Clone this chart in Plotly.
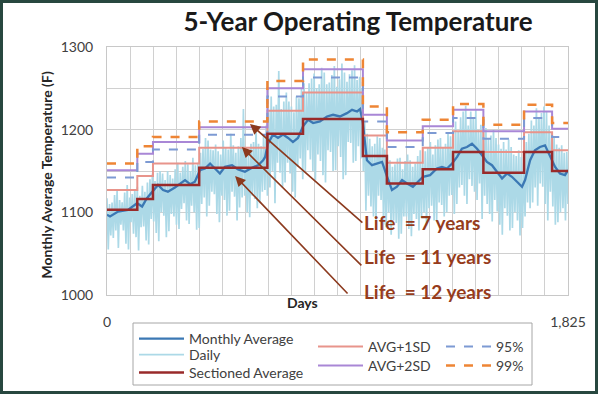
import plotly.graph_objects as go

# ---------------- data ----------------
avg_days = [0, 12, 44, 83, 119, 139, 158, 178, 202, 222, 241, 269, 309, 329, 348, 368, 388, 408,
            428, 447, 467, 495, 519, 546, 574, 598, 618, 626, 637, 657, 677, 697, 717, 736, 756,
            776, 796, 816, 843, 871, 895, 922, 950, 970, 990, 1002, 1013, 1029, 1049, 1069, 1089,
            1109, 1128, 1148, 1168, 1188, 1211, 1231, 1251, 1279, 1306, 1326, 1346, 1366, 1386,
            1405, 1425, 1445, 1465, 1485, 1504, 1524, 1544, 1564, 1584, 1603, 1623, 1643, 1655,
            1675, 1694, 1714, 1734, 1754, 1774, 1793, 1813, 1825]
avg_temp = [1097, 1095, 1101, 1103, 1111, 1107, 1117, 1124, 1133, 1127, 1125, 1130, 1139, 1134,
            1137, 1151, 1153, 1159, 1153, 1147, 1155, 1157, 1152, 1149, 1154, 1157, 1163, 1167,
            1183, 1194, 1190, 1194, 1190, 1185, 1190, 1204, 1212, 1208, 1210, 1216, 1218, 1216,
            1220, 1224, 1222, 1225, 1208, 1163, 1157, 1159, 1161, 1143, 1127, 1131, 1139, 1135,
            1131, 1137, 1143, 1145, 1153, 1155, 1153, 1159, 1167, 1177, 1179, 1183, 1177, 1169,
            1161, 1157, 1149, 1141, 1147, 1143, 1137, 1131, 1139, 1163, 1175, 1179, 1181, 1167,
            1155, 1147, 1145, 1151]

# daily readings, one every 5 days (day 0 ... 1825)
daily_days = list(range(0, 1826, 5))
daily_temp = [
    1117, 1055, 1110, 1072, 1112, 1069, 1121, 1078, 1126, 1057, 1115, 1085,
    1112, 1078, 1124, 1062, 1133, 1055, 1118, 1088, 1122, 1074, 1128, 1070,
    1131, 1054, 1120, 1082, 1132, 1083, 1125, 1066, 1136, 1061, 1140, 1092,
    1147, 1089, 1138, 1075, 1148, 1065, 1150, 1100, 1147, 1096, 1139, 1070,
    1150, 1077, 1145, 1098, 1141, 1095, 1152, 1085, 1160, 1080, 1148, 1104,
    1155, 1111, 1162, 1090, 1158, 1086, 1150, 1108, 1166, 1100, 1157, 1079,
    1160, 1081, 1172, 1110, 1177, 1118, 1190, 1095, 1187, 1108, 1176, 1125,
    1175, 1122, 1182, 1098, 1174, 1088, 1170, 1120, 1187, 1115, 1178, 1096,
    1176, 1102, 1195, 1125, 1181, 1119, 1172, 1090, 1180, 1106, 1190, 1118,
    1225, 1120, 1176, 1100, 1174, 1094, 1183, 1120, 1185, 1116, 1205, 1105,
    1183, 1111, 1180, 1125, 1194, 1127, 1205, 1120, 1224, 1130, 1240, 1150,
    1228, 1111, 1230, 1160, 1271, 1148, 1225, 1130, 1234, 1136, 1245, 1160,
    1234, 1147, 1228, 1125, 1221, 1118, 1240, 1155, 1238, 1165, 1250, 1140,
    1256, 1150, 1245, 1175, 1256, 1164, 1262, 1150, 1268, 1139, 1250, 1170,
    1255, 1162, 1275, 1145, 1269, 1136, 1255, 1175, 1257, 1173, 1266, 1150,
    1277, 1151, 1252, 1180, 1261, 1167, 1280, 1140, 1269, 1145, 1258, 1185,
    1267, 1184, 1272, 1160, 1278, 1162, 1260, 1180, 1264, 1165, 1250, 1150,
    1210, 1102, 1195, 1120, 1189, 1107, 1180, 1095, 1183, 1089, 1192, 1120,
    1190, 1115, 1178, 1085, 1176, 1082, 1170, 1100, 1163, 1073, 1155, 1090,
    1158, 1087, 1165, 1068, 1166, 1074, 1152, 1095, 1162, 1095, 1170, 1080,
    1163, 1071, 1155, 1098, 1159, 1092, 1168, 1078, 1175, 1093, 1162, 1100,
    1174, 1084, 1178, 1105, 1185, 1108, 1170, 1090, 1181, 1089, 1188, 1112,
    1190, 1109, 1178, 1095, 1183, 1100, 1195, 1120, 1192, 1121, 1185, 1098,
    1210, 1110, 1198, 1130, 1215, 1133, 1222, 1120, 1229, 1110, 1205, 1140,
    1222, 1132, 1215, 1125, 1224, 1115, 1200, 1135, 1206, 1092, 1212, 1120,
    1202, 1110, 1190, 1098, 1193, 1089, 1200, 1115, 1190, 1101, 1182, 1085,
    1177, 1073, 1185, 1105, 1176, 1096, 1188, 1078, 1179, 1081, 1170, 1100,
    1168, 1090, 1175, 1072, 1167, 1081, 1160, 1095, 1185, 1112, 1195, 1105,
    1211, 1112, 1205, 1130, 1226, 1108, 1215, 1135, 1220, 1131, 1228, 1110,
    1222, 1090, 1205, 1125, 1197, 1107, 1190, 1085, 1182, 1088, 1178, 1100,
    1181, 1105, 1172, 1090, 1173, 1110,
]

sect_days = [0, 120, 182, 365, 635, 776, 1013, 1108, 1250, 1370, 1490, 1651, 1762, 1825]
sectioned = [1103, 1116, 1133, 1154, 1195, 1213, 1168, 1135, 1152, 1173, 1148, 1173, 1150]
avg_1sd = [1127, 1144, 1159, 1178, 1223, 1245, 1193, 1160, 1178, 1198, 1173, 1197, 1175]
avg_2sd = [1151, 1171, 1185, 1203, 1250, 1273, 1218, 1187, 1204, 1224, 1198, 1222, 1201]
pct_95 = [1142, 1161, 1176, 1194, 1240, 1263, 1210, 1179, 1196, 1214, 1189, 1214, 1191]
pct_99 = [1159, 1180, 1191, 1210, 1259, 1285, 1228, 1197, 1212, 1231, 1206, 1230, 1208]

x_ticks = [i * 91.25 for i in range(21)]
x_ticktext = ["0"] + [""] * 19 + ["1,825"]
y_ticks = [1000, 1050, 1100, 1150, 1200, 1250, 1300]
y_ticktext = ["1000", "", "1100", "", "1200", "", "1300"]

life_labels = ["Life  = 7 years", "Life  = 11 years", "Life  = 12 years"]
life_label_pos = [(1009, 1088), (1009, 1046), (1009, 1004)]
arrow_heads = [(566, 1207), (534, 1179), (507, 1144)]
arrow_tails = [(1017, 1086), (1013, 1034), (958, 1000)]

# ---------------- figure ----------------
FONT = "Lato"
W, H = 598, 394
L, R, T, B = 107, 30, 47, 99
PW, PH = W - L - R, H - T - B

def px_x(px):
    return (px - L) / PW

def px_y(py):
    return (H - B - py) / PH

fig = go.Figure()

def step(vals):
    return vals + [vals[-1]]

fig.add_trace(go.Scatter(x=daily_days, y=daily_temp, mode="lines", name="Daily",
                         line=dict(color="#acd9e7", width=1.7), legend="legend2"))
fig.add_trace(go.Scatter(x=avg_days, y=avg_temp, mode="lines", name="Monthly Average",
                         line=dict(color="#3b78b4", width=2.3), legend="legend"))
fig.add_trace(go.Scatter(x=sect_days, y=step(avg_1sd), mode="lines", name="AVG+1SD",
                         line=dict(color="#e8948b", width=2, shape="hv"), legend="legend4"))
fig.add_trace(go.Scatter(x=sect_days, y=step(avg_2sd), mode="lines", name="AVG+2SD",
                         line=dict(color="#a987d6", width=2, shape="hv"), legend="legend5"))
fig.add_trace(go.Scatter(x=sect_days, y=step(pct_95), mode="lines", name="95%",
                         line=dict(color="#7d9ad3", width=2, shape="hv", dash="dash"), legend="legend6"))
fig.add_trace(go.Scatter(x=sect_days, y=step(pct_99), mode="lines", name="99%",
                         line=dict(color="#ee8535", width=2.5, shape="hv", dash="dash"), legend="legend7"))
fig.add_trace(go.Scatter(x=sect_days, y=step(sectioned), mode="lines", name="Sectioned Average",
                         line=dict(color="#992a2a", width=2.5, shape="hv"), legend="legend3"))

leg_common = dict(bgcolor="rgba(0,0,0,0)", borderwidth=0, xanchor="left", yanchor="middle",
                  font=dict(family=FONT, size=14, color="#404040"), itemwidth=45)
fig.update_layout(
    legend=dict(x=px_x(134), y=px_y(339), **leg_common),
    legend2=dict(x=px_x(134), y=px_y(355), **leg_common),
    legend3=dict(x=px_x(134), y=px_y(373), **leg_common),
    legend4=dict(x=px_x(313), y=px_y(347), **leg_common),
    legend5=dict(x=px_x(313), y=px_y(366), **leg_common),
    legend6=dict(x=px_x(441), y=px_y(347), **leg_common),
    legend7=dict(x=px_x(441), y=px_y(366), **leg_common),
)

ann = []
for (hx, hy), (tx, ty) in zip(arrow_heads, arrow_tails):
    ann.append(dict(x=hx, y=hy, ax=tx, ay=ty, xref="x", yref="y", axref="x", ayref="y",
                    text="", showarrow=True, arrowhead=2, arrowsize=1.3, arrowwidth=1.6,
                    arrowcolor="#8c3a1e", standoff=0, startstandoff=0))
for txt, (lx, ly) in zip(life_labels, life_label_pos):
    ann.append(dict(x=lx, y=ly, xref="x", yref="y", text=txt, showarrow=False,
                    xanchor="left", yanchor="middle",
                    font=dict(family=FONT, size=19, color="#963c1c", weight="bold")))
ann.append(dict(x=px_x(35), y=px_y(175), xref="paper", yref="paper",
                text="<b>Monthly Average Temperature (F)</b>", textangle=-90, showarrow=False,
                font=dict(family=FONT, size=14, color="#262626")))
ann.append(dict(x=px_x(302), y=px_y(313), xref="paper", yref="paper", text="<b>Days</b>",
                showarrow=False, font=dict(family=FONT, size=14, color="#262626")))

shapes = [
    dict(type="rect", xref="paper", yref="paper", x0=px_x(133), x1=px_x(532),
         y0=px_y(385), y1=px_y(323), line=dict(color="#a6a6a6", width=1), layer="above"),
    dict(type="rect", xref="paper", yref="paper", x0=px_x(1.5), x1=px_x(596.5),
         y0=px_y(392.5), y1=px_y(1.5), line=dict(color="#27473f", width=3), layer="above"),
]

fig.update_layout(
    width=W, height=H,
    margin=dict(l=L, r=R, t=T, b=B, pad=0, autoexpand=False),
    paper_bgcolor="white", plot_bgcolor="white",
    font=dict(family=FONT, color="#404040"),
    title=dict(text="<b>5-Year Operating Temperature</b>", x=px_x(358), xref="paper",
               xanchor="center", y=1 - 22 / H, yref="container", yanchor="middle",
               font=dict(family=FONT, size=26, color="#1a1a1a"), automargin=False),
    showlegend=True,
    annotations=ann,
    shapes=shapes,
)
fig.update_xaxes(range=[0, 1825], tickvals=x_ticks, ticktext=x_ticktext, showgrid=True,
                 gridcolor="#d0d0d0", gridwidth=1, zeroline=False, showline=True,
                 linecolor="#c8c8c8", mirror=True, ticks="", ticklabelstandoff=14,
                 automargin=False, tickfont=dict(family=FONT, size=14, color="#404040"))
fig.update_yaxes(range=[1000, 1300], tickvals=y_ticks, ticktext=y_ticktext, showgrid=True,
                 gridcolor="#d0d0d0", gridwidth=1, zeroline=False, showline=True,
                 linecolor="#c8c8c8", mirror=True, ticks="", ticklabelstandoff=10,
                 automargin=False, tickfont=dict(family=FONT, size=14, color="#404040"))

fig.write_html("out.html", config={"displayModeBar": False},
               post_script="document.body.style.margin='0px';")
